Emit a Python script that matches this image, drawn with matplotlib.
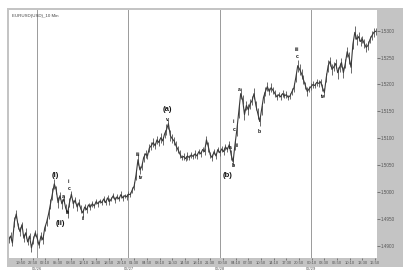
import matplotlib
matplotlib.use("Agg")
import matplotlib.pyplot as plt

# 30-minute samples of the 10-min EURUSD chart (bar index = 3*k + 1)
prices = [
    1.4911, 1.4918, 1.4905, 1.4944, 1.4959, 1.4937, 1.4926, 1.4939, 1.4914, 1.4924,
    1.4907, 1.4918, 1.4896, 1.4911, 1.4924, 1.4914, 1.4901, 1.4918, 1.4911, 1.4933,
    1.4944, 1.4959, 1.4978, 1.4996, 1.5015, 1.5004, 1.4980, 1.4993, 1.4978, 1.4987,
    1.4970, 1.4961, 1.4980, 1.4996, 1.4978, 1.4985, 1.4972, 1.4980, 1.4968, 1.4961,
    1.4972, 1.4967, 1.4976, 1.4972, 1.4978, 1.4974, 1.4982, 1.4978, 1.4983, 1.4980,
    1.4987, 1.4980, 1.4989, 1.4982, 1.4987, 1.4993, 1.4985, 1.4991, 1.4987, 1.4995,
    1.4989, 1.4993, 1.4991, 1.4996, 1.4995, 1.5004, 1.5011, 1.5032, 1.5060, 1.5041,
    1.5047, 1.5064, 1.5071, 1.5067, 1.5082, 1.5086, 1.5092, 1.5086, 1.5097, 1.5092,
    1.5101, 1.5095, 1.5108, 1.5116, 1.5127, 1.5105, 1.5099, 1.5095, 1.5086, 1.5079,
    1.5071, 1.5064, 1.5066, 1.5062, 1.5067, 1.5064, 1.5069, 1.5066, 1.5071, 1.5067,
    1.5075, 1.5071, 1.5079, 1.5075, 1.5097, 1.5084, 1.5069, 1.5064, 1.5075, 1.5067,
    1.5079, 1.5073, 1.5080, 1.5075, 1.5084, 1.5079, 1.5088, 1.5069, 1.5056, 1.5088,
    1.5116, 1.5149, 1.5183, 1.5172, 1.5144, 1.5161, 1.5153, 1.5164, 1.5170, 1.5183,
    1.5161, 1.5146, 1.5131, 1.5153, 1.5176, 1.5187, 1.5196, 1.5187, 1.5194, 1.5189,
    1.5183, 1.5177, 1.5181, 1.5177, 1.5183, 1.5179, 1.5181, 1.5176, 1.5179, 1.5187,
    1.5194, 1.5213, 1.5235, 1.5228, 1.5220, 1.5209, 1.5198, 1.5187, 1.5192, 1.5196,
    1.5200, 1.5198, 1.5204, 1.5202, 1.5205, 1.5194, 1.5185, 1.5213, 1.5235, 1.5243,
    1.5228, 1.5233, 1.5239, 1.5222, 1.5232, 1.5241, 1.5222, 1.5239, 1.5261, 1.5250,
    1.5232, 1.5275, 1.5297, 1.5284, 1.5289, 1.5280, 1.5284, 1.5276, 1.5269, 1.5273,
    1.5284, 1.5291, 1.5297, 1.5299,
]
# half of the high-low range of each sample, in pips
half_range_pips = [
    6, 8, 5, 9, 7, 6, 8, 5, 7, 9,
    6, 5, 8, 7, 6, 9, 5, 7, 8, 6,
    8, 10, 9, 11, 9, 8, 10, 7, 9, 8,
    7, 9, 8, 6, 7, 5, 8, 6, 7, 8,
    5, 6, 4, 5, 6, 4, 5, 6, 4, 5,
    6, 4, 5, 6, 4, 5, 6, 5, 4, 6,
    5, 4, 6, 5, 4, 6, 7, 9, 10, 8,
    7, 9, 8, 6, 8, 7, 9, 6, 8, 7,
    9, 7, 8, 10, 9, 11, 8, 7, 9, 6,
    7, 5, 6, 5, 7, 5, 6, 5, 7, 6,
    5, 6, 5, 7, 8, 9, 6, 7, 5, 6,
    5, 6, 5, 7, 6, 5, 7, 9, 8, 10,
    11, 12, 10, 9, 11, 8, 10, 9, 8, 10,
    9, 11, 8, 9, 10, 8, 9, 7, 8, 6,
    7, 6, 5, 6, 7, 5, 6, 5, 6, 7,
    8, 9, 11, 10, 9, 8, 7, 8, 6, 7,
    6, 5, 6, 7, 5, 6, 8, 9, 11, 9,
    10, 8, 9, 11, 8, 9, 10, 8, 9, 11,
    10, 9, 12, 10, 8, 9, 7, 8, 9, 8,
    7, 8, 9, 7,
]
bars = [3 * k + 1 for k in range(len(prices))]

day_bars = [46, 190, 334, 478]
day_labels = ["02/26", "02/27", "02/28", "02/29"]

tick_bars = [21, 39] + list(range(59, 580, 20))
tick_labels = ["19:50", "22:50", "02:10", "05:30", "08:50", "12:10", "15:30", "18:50",
               "22:10", "01:30", "04:50", "08:10", "11:30", "14:50", "18:10", "21:30",
               "00:50", "04:10", "07:30", "10:50", "14:10", "17:30", "20:50", "00:10",
               "03:30", "06:50", "10:10", "13:30", "16:50"]

price_ticks = [1.4900, 1.4950, 1.5000, 1.5050, 1.5100, 1.5150, 1.5200, 1.5250, 1.5300]

# wave labels: (text, bar, price, big)
waves = [
    ("(i)", 74, 1.5030, True), ("(ii)", 82, 1.4942, True),
    ("a", 87, 1.4991, False), ("b", 93, 1.4961, False),
    ("i", 96, 1.5019, False), ("c", 96, 1.5006, False), ("ii", 118, 1.4950, False),
    ("iii", 205, 1.5069, False), ("iv", 210, 1.5026, False),
    ("(a)", 251, 1.5153, True), ("v", 251, 1.5135, False),
    ("a", 350, 1.5082, False), ("b", 355, 1.5049, False), ("(b)", 347, 1.5030, True),
    ("i", 356, 1.5131, False), ("c", 356, 1.5116, False), ("ii", 361, 1.5086, False),
    ("a", 364, 1.5191, False), ("b", 397, 1.5112, False),
    ("iii", 456, 1.5265, False), ("c", 456, 1.5252, False), ("iv", 497, 1.5177, False),
]

plt.rcParams["font.family"] = ["Liberation Sans", "DejaVu Sans"]

fig = plt.figure(figsize=(4.03, 2.8), dpi=100)
fig.patch.set_facecolor("white")

# grey chart frame behind the plot area
bg = fig.add_axes([7 / 403, 13 / 280, 396 / 403, 259 / 280], zorder=0)
bg.set_facecolor("#c4c4c4")
bg.set_xticks([])
bg.set_yticks([])
for s in bg.spines.values():
    s.set_visible(False)

ax = fig.add_axes([9 / 403, 22 / 280, 368 / 403, 248 / 280], zorder=1)
ax.set_facecolor("white")
ax.set_xlim(1.6, 582)
ax.set_ylim(1.48771, 1.53386)

for b in day_bars:
    ax.axvline(b, color="#9a9a9a", linewidth=0.7, zorder=1)

lows = [p - h * 0.0001 for p, h in zip(prices, half_range_pips)]
highs = [p + h * 0.0001 for p, h in zip(prices, half_range_pips)]
ax.vlines(bars, lows, highs, color="#6a6a6a", linewidth=0.7, zorder=2)
ax.plot(bars, prices, color="#3a3a3a", linewidth=0.8, zorder=2)

for txt, b, p, big in waves:
    ax.text(b, p, txt, ha="center", va="center", fontweight="bold",
            fontsize=5.5 if big else 3.6, color="#111111", zorder=3)

ax.text(0.008, 0.985, "EURUSD(USD)_10 Min", transform=ax.transAxes,
        ha="left", va="top", fontsize=3.2, color="#444444")

ax.yaxis.tick_right()
ax.set_yticks(price_ticks)
ax.set_yticklabels([f"{v:.4f}" for v in price_ticks])
ax.tick_params(axis="y", length=2, width=0.5, pad=1, labelsize=3.3,
               colors="#555555")

ax.set_xticks(tick_bars)
ax.set_xticklabels(tick_labels)
ax.tick_params(axis="x", length=1.5, width=0.5, pad=0.8, labelsize=3.0,
               colors="#555555")

for b, lab in zip(day_bars, day_labels):
    ax.text(b, -0.035, lab, transform=ax.get_xaxis_transform(), ha="center",
            va="top", fontsize=3.0, color="#555555")

for s in ax.spines.values():
    s.set_visible(False)

fig.savefig("out.png", dpi=100, facecolor=fig.get_facecolor())
